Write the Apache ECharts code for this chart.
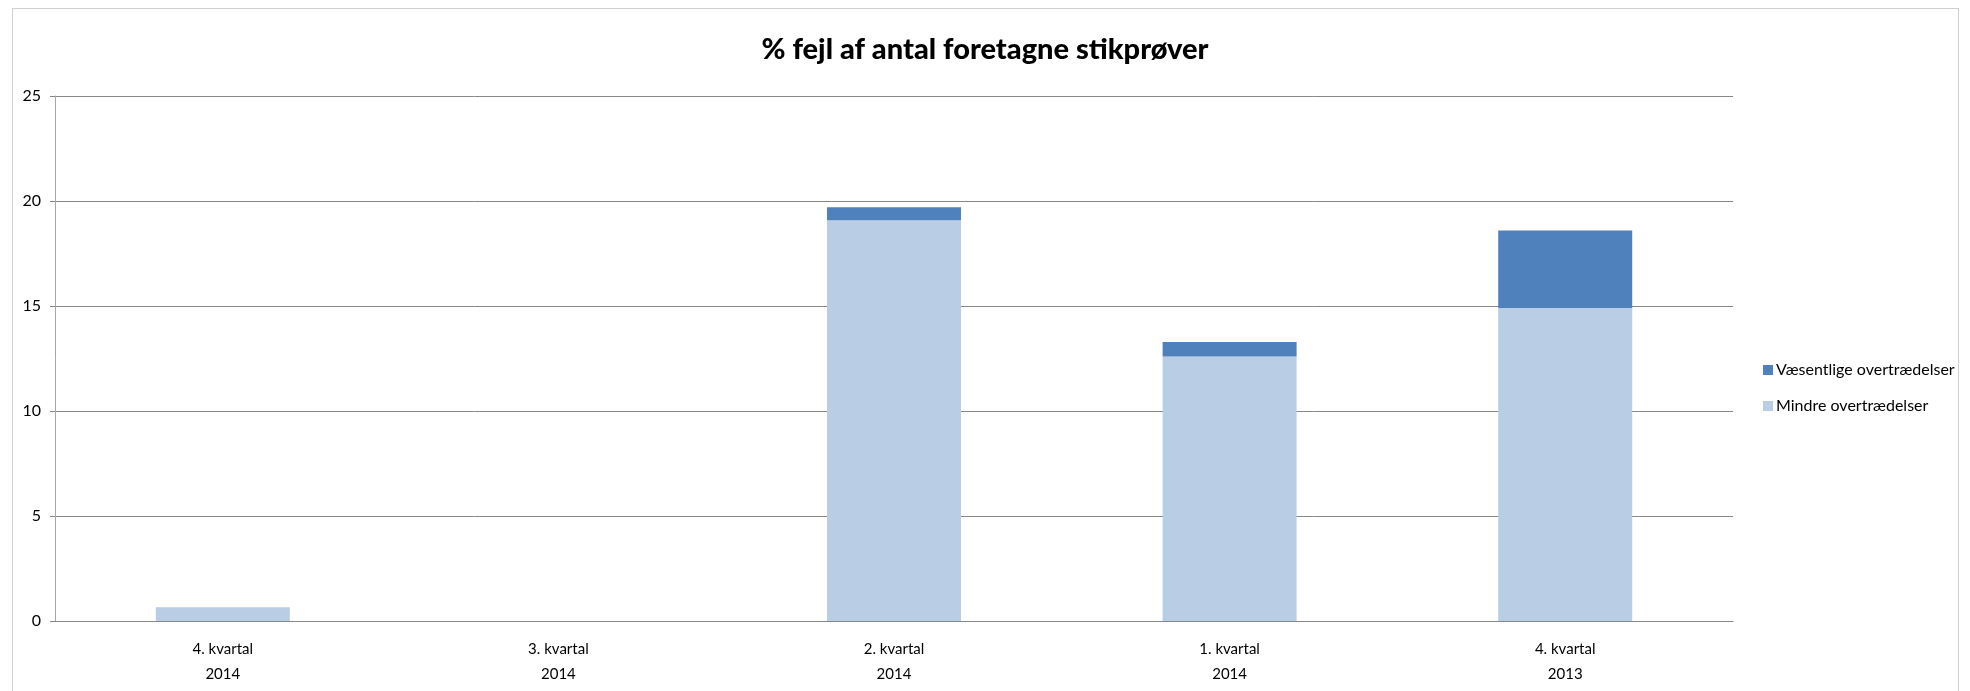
<!DOCTYPE html>
<html>
<head>
<meta charset="utf-8">
<script src="https://cdn.jsdelivr.net/npm/echarts@6/dist/echarts.min.js"></script>
<style>
    html, body { margin: 0; padding: 0; background: #fff; }
    #frame {
        position: absolute; left: 12px; top: 8px; width: 1947px; height: 700px;
        border: 1px solid #d0d0d0; box-sizing: border-box;
    }
    #chart { position: absolute; left: 0; top: 0; width: 1970px; height: 691px; }
</style>
</head>
<body>
<div id="frame"></div>
<div id="chart"></div>
<script>
const TITLE = "% fejl af antal foretagne stikprøver";
const CATEGORIES = ["4. kvartal\n2014", "3. kvartal\n2014", "2. kvartal\n2014", "1. kvartal\n2014", "4. kvartal\n2013"];
const MINDRE = [0.66, 0, 19.08, 12.6, 14.9];
const VAESENTLIGE = [0, 0, 0.62, 0.68, 3.7];
const Y_TICKS = { min: 0, max: 25, interval: 5 };

const FONT = "'Lato', sans-serif";
const AXIS_GREY = "#878787";

const chart = echarts.init(document.getElementById("chart"), null, { renderer: "canvas" });

chart.setOption({
    animation: false,
    textStyle: { fontFamily: FONT },
    title: {
        text: TITLE,
        left: "center",
        top: 30,
        textStyle: { fontFamily: FONT, fontSize: 29, fontWeight: 900, color: "#000" },
    },
    legend: {
        orient: "vertical",
        left: 1758,
        top: 357,
        itemWidth: 10,
        itemHeight: 10,
        itemGap: 20,
        icon: "rect",
        data: ["Væsentlige overtrædelser", "Mindre overtrædelser"],
        textStyle: { fontFamily: FONT, fontSize: 16, color: "#000", padding: [0, 0, 0, -2] },
    },
    grid: { left: 55, right: 237, top: 96, bottom: 70, containLabel: false },
    xAxis: {
        type: "category",
        data: CATEGORIES,
        axisLine: { lineStyle: { color: AXIS_GREY, width: 1 } },
        axisTick: { length: 6, lineStyle: { color: AXIS_GREY } },
        axisLabel: { color: "#000", fontSize: 15, lineHeight: 25, margin: 16, fontFamily: FONT },
    },
    yAxis: {
        type: "value",
        min: Y_TICKS.min,
        max: Y_TICKS.max,
        interval: Y_TICKS.interval,
        axisLine: { show: true, lineStyle: { color: "#a6a6a6" } },
        axisTick: { show: true, length: 5, lineStyle: { color: AXIS_GREY } },
        axisLabel: { color: "#000", fontSize: 16, margin: 14, fontFamily: FONT },
        splitLine: { lineStyle: { color: AXIS_GREY, width: 1 } },
    },
    series: [
        {
            name: "Mindre overtrædelser",
            type: "bar",
            stack: "total",
            barWidth: 134,
            data: MINDRE,
            itemStyle: { color: "#B9CDE5" },
        },
        {
            name: "Væsentlige overtrædelser",
            type: "bar",
            stack: "total",
            barWidth: 134,
            data: VAESENTLIGE,
            itemStyle: { color: "#4F81BD" },
        },
    ],
});
</script>
</body>
</html>
